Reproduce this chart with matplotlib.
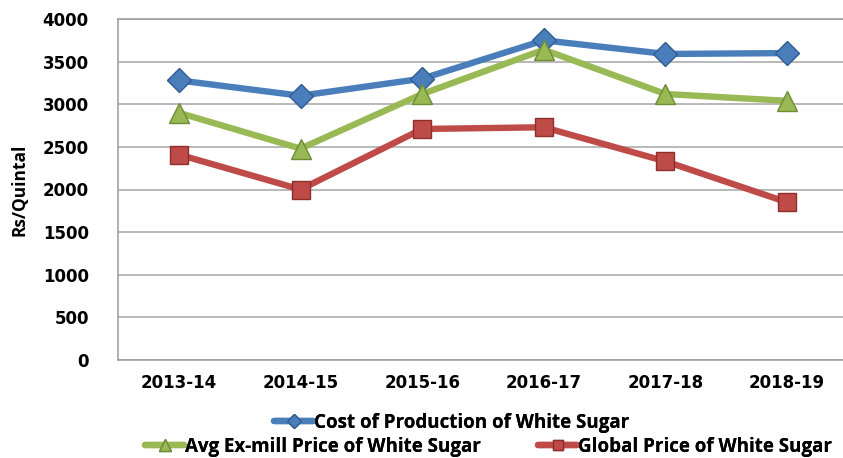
import matplotlib
matplotlib.use("Agg")
import matplotlib.pyplot as plt
import numpy as np

years = ["2013-14", "2014-15", "2015-16", "2016-17", "2017-18", "2018-19"]
cost_production = [3280, 3100, 3300, 3750, 3590, 3600]
avg_exmill = [2900, 2480, 3120, 3640, 3120, 3040]
global_price = [2410, 2000, 2710, 2730, 2330, 1850]
series_names = ["Cost of Production of White Sugar",
                "Avg Ex-mill Price of White Sugar",
                "Global Price of White Sugar"]
yticks = [0, 500, 1000, 1500, 2000, 2500, 3000, 3500, 4000]

W, H = 843, 458
fig = plt.figure(figsize=(W / 100, H / 100), dpi=100)
ax = fig.add_axes([118 / W, 1 - 360 / H, (848 - 118) / W, (360 - 19) / H])

x = np.arange(len(years)) + 0.5
styles = [
    (cost_production, "#4A7EBB", "#2E5C94", "D", 12.5),
    (avg_exmill, "#98B954", "#6E8C36", "^", 15),
    (global_price, "#BE4B48", "#8E2E2C", "s", 13),
]
handles = []
for (vals, col, ecol, mk, ms), name in zip(styles, series_names):
    ln, = ax.plot(x, vals, color=col, lw=4.6, marker=mk, markersize=ms,
                  markerfacecolor=col, markeredgecolor=ecol, markeredgewidth=1.0,
                  solid_capstyle="round", zorder=3, label=name)
    handles.append(ln)

ax.set_xlim(0, len(years))
ax.set_ylim(0, 4000)
ax.set_yticks(yticks)
ax.set_xticks(x)
ax.set_xticklabels(years)
ax.yaxis.grid(True, color="#A6A6A6", lw=1.1)
ax.set_axisbelow(True)
for s in ax.spines.values():
    s.set_color("#9A9A9A")
    s.set_linewidth(1.1)
ax.tick_params(length=0, labelsize=12, pad=10)
ax.tick_params(axis="y", pad=21)
for lab in ax.get_xticklabels() + ax.get_yticklabels():
    lab.set_fontweight("bold")
    lab.set_family("DejaVu Sans")
ax.set_ylabel("Rs/Quintal", fontsize=12.5, fontweight="bold", family="Open Sans")
ax.yaxis.set_label_coords((28 - 118) / 730, 0.5)

leg_font = {"family": "Open Sans", "weight": "bold", "size": 13.5}
anchors = [(274, 423), (145, 447), (538, 447)]
for h, (lx, ly) in zip(handles, anchors):
    lg = fig.legend(handles=[h], loc="center left", bbox_to_anchor=(lx / W, 1 - ly / H),
                    frameon=False, prop=leg_font, handlelength=2.1, handletextpad=0.05,
                    borderaxespad=0, borderpad=0, markerscale=0.55)
    fig.add_artist(lg)

fig.savefig("out.png", dpi=100)
